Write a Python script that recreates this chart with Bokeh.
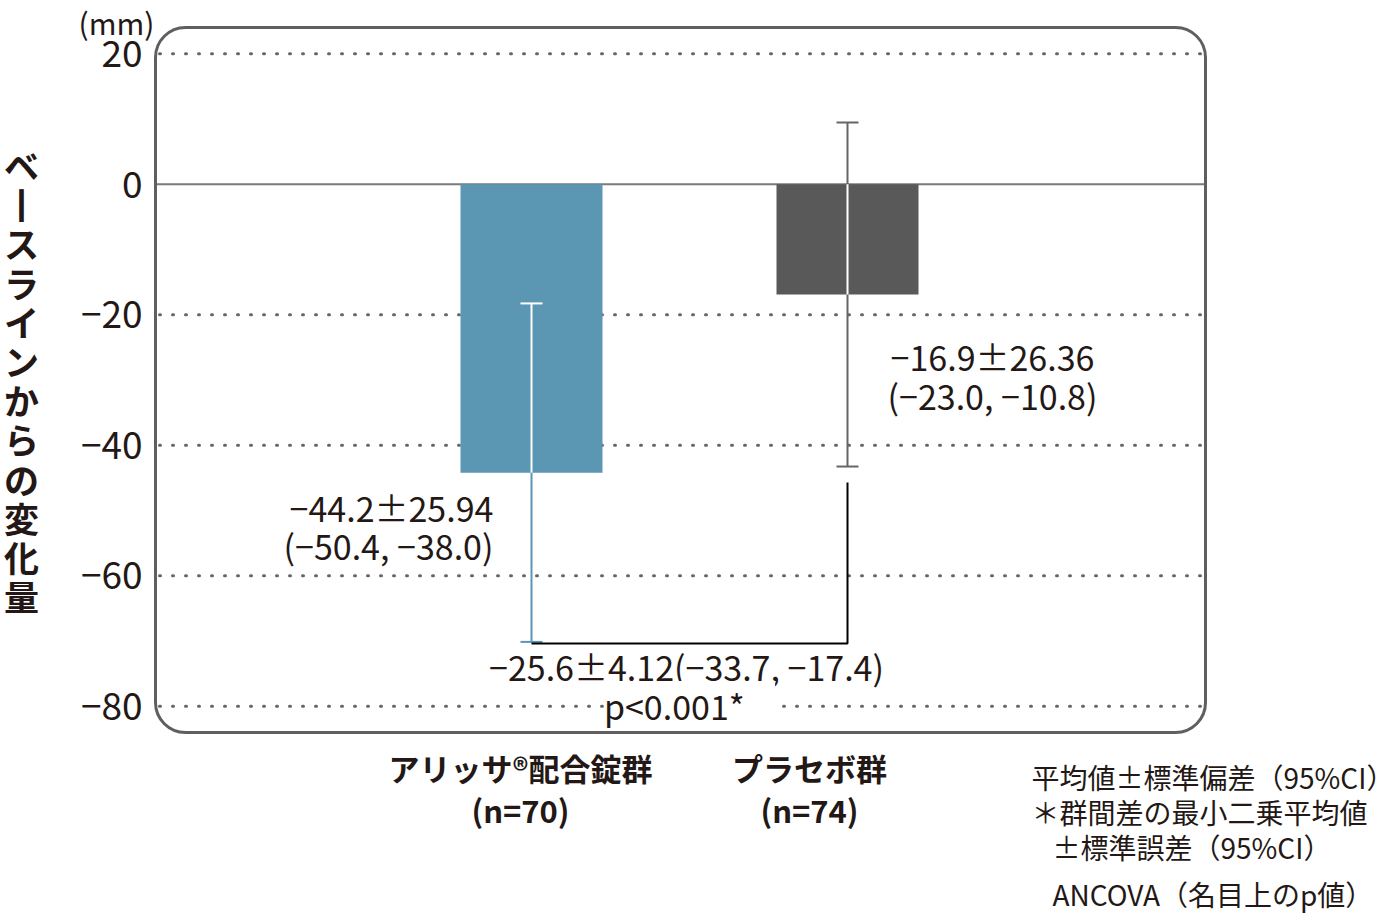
from bokeh.plotting import figure
from bokeh.models import Range1d, BoxAnnotation, Label, Grid
from bokeh.core.properties import value
from bokeh.embed import file_html
from bokeh.resources import INLINE

# ---------------- data ----------------
group_names = ["アリッサ®配合錠群", "プラセボ群"]
group_ns = ["(n=70)", "(n=74)"]
group_x = [1, 2]
means = [-44.2, -16.9]
sds = [25.94, 26.36]
ci_low = [-50.4, -23.0]
ci_high = [-38.0, -10.8]
diff_mean = -25.6
diff_se = 4.12
diff_ci = [-33.7, -17.4]
p_label = "p<0.001*"
bracket_low = -70.4
bracket_top = -45.7
y_ticks = [20, 0, -20, -40, -60, -80]
y_unit = "(mm)"
y_title = "ベ丨スラインからの変化量"   # vertical writing: long-vowel mark drawn as a vertical stroke
notes = ["平均値±標準偏差（95%CI）", "＊群間差の最小二乗平均値", "±標準誤差（95%CI）", "ANCOVA（名目上のp値）"]

# ---------------- style / geometry ----------------
bar_colors = ["#5b96b3", "#595959"]
err_colors = ["#5b96b3", "#666666"]
INK = "#231815"
FONT = "Noto Sans CJK JP"
BOX = "#5f5f5f"

W, H = 1394, 924
PX_X = 316.0      # px per x unit; bar 1 centre at x=531 px
CX1 = 531.0
PX_Y = 6.524      # px per y unit; zero at y=183.8 px
ZY = 183.8


def X(sx):
    return 1 + (sx - CX1) / PX_X


def Y(sy):
    return (ZY - sy) / PX_Y


def fmt(v, nd=1):
    return f"{v:.{nd}f}".replace("-", "−")


p = figure(width=W, height=H, output_backend="svg", toolbar_location=None,
           x_range=Range1d(X(0), X(W)), y_range=Range1d(Y(H), Y(0)),
           x_axis_location=None, y_axis_location=None,
           min_border=0)
p.outline_line_color = None
p.background_fill_color = "white"
p.border_fill_color = "white"
p.center = [r for r in p.center if not isinstance(r, Grid)]

# dotted grid lines inside the rounded box
grid_vals = [t for t in y_ticks if t != 0]
p.segment(x0=[X(159)] * len(grid_vals), x1=[X(1201)] * len(grid_vals),
          y0=grid_vals, y1=grid_vals, line_color="#666666", line_width=3,
          line_dash="1 12", line_cap="round")
# zero line
p.segment(x0=[X(156)], x1=[X(1204)], y0=[0], y1=[0], line_color="#7a7a7a", line_width=2)

# bars
bar_w = 142 / PX_X
p.vbar(x=group_x, top=means, bottom=0, width=bar_w, color=bar_colors, line_color=None)

# error bars (white where inside the bar)
cap_w = 22 / PX_X
for xi, m, s, c in zip(group_x, means, sds, err_colors):
    lo, hi = m - s, m + s
    p.segment(x0=[xi], y0=[lo], x1=[xi], y1=[hi], line_color=c, line_width=2)
    a, b = max(lo, m), min(hi, 0)
    if b > a:
        p.segment(x0=[xi], y0=[a], x1=[xi], y1=[b], line_color="white", line_width=2)
    for yv in (lo, hi):
        cc = "white" if m <= yv <= 0 else c
        p.segment(x0=[xi - cap_w / 2], y0=[yv], x1=[xi + cap_w / 2], y1=[yv],
                  line_color=cc, line_width=2)

# bracket between groups
p.line(x=[group_x[0], group_x[1], group_x[1]], y=[bracket_low, bracket_low, bracket_top],
       line_color="black", line_width=2)

# rounded box
p.add_layout(BoxAnnotation(left=X(155), right=X(1205), top=Y(27), bottom=Y(732),
                           fill_color=None, fill_alpha=0, line_color=BOX, line_alpha=1,
                           line_width=3, border_radius=30, level="overlay"))

# y tick labels
p.text(x=[X(142)] * len(y_ticks), y=y_ticks, text=[fmt(t, 0) for t in y_ticks],
       text_align="right", text_baseline="middle", text_font=value(FONT),
       text_font_size="37px", text_color=INK)

# category labels
name_x = [X(520), X(809)]
p.text(x=name_x, y=[Y(767)] * 2, text=group_names, text_align="center",
       text_baseline="middle", text_font=value(FONT), text_font_size="31px",
       text_font_style="bold", text_color=INK)
p.text(x=name_x, y=[Y(809)] * 2, text=group_ns, text_align="center",
       text_baseline="middle", text_font=value(FONT), text_font_size="31px",
       text_font_style="bold", text_color=INK)


def lab(text, sx, sy, size, align="center", bold=False, bg=None):
    p.add_layout(Label(x=X(sx), y=Y(sy), text=text, text_font=FONT,
                       text_font_size=f"{size}px", text_align=align,
                       text_baseline="middle", text_color=INK,
                       text_font_style="bold" if bold else "normal",
                       background_fill_color=bg))


# value annotations
lab(f"{fmt(means[0])}±{sds[0]:.2f}", 391, 507, 34)
lab(f"({fmt(ci_low[0])}, {fmt(ci_high[0])})", 388, 545, 34)
lab(f"{fmt(means[1])}±{sds[1]:.2f}", 992, 356, 34)
lab(f"({fmt(ci_low[1])}, {fmt(ci_high[1])})", 992, 395, 34)
lab(f"{fmt(diff_mean)}±{diff_se:.2f}({fmt(diff_ci[0])}, {fmt(diff_ci[1])})", 686, 666, 34)
lab("  " + p_label + "  ", 689, 705, 34, bg="white")

# unit
lab(y_unit, 116, 21, 30)

# vertical y title (upright characters, top to bottom)
for i, ch in enumerate(y_title):
    lab(ch, 21, 164 + 39.2 * i, 35, bold=True)

# notes
note_x = [1031, 1031, 1052, 1052]
note_y = [776, 811, 846, 893]
for t, nx, ny in zip(notes, note_x, note_y):
    lab(t, nx, ny, 28, align="left")

open("out.html", "w").write(file_html(p, INLINE))
